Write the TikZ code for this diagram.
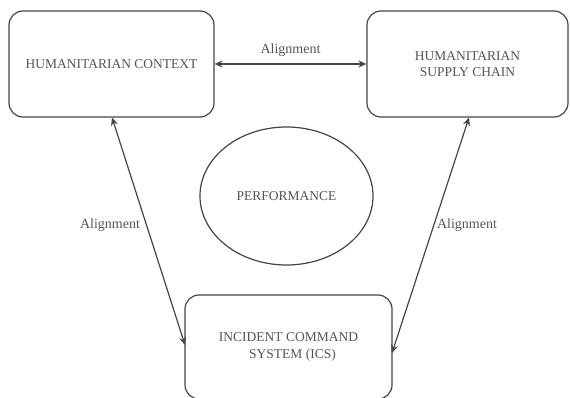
\documentclass[tikz,border=0pt]{standalone}
\usepackage{fontspec}
\setmainfont{Liberation Serif}
\usetikzlibrary{arrows.meta,shapes.geometric}
\definecolor{linegray}{HTML}{454545}
\definecolor{textgray}{HTML}{555555}
\tikzset{
  box/.style={draw=linegray, line width=1.2pt, rounded corners=14pt, rectangle,
    text=textgray, font=\fontsize{13.5}{16.5}\selectfont, align=center, inner sep=0pt},
  perf/.style={draw=linegray, line width=1.2pt, ellipse, text=textgray,
    font=\fontsize{13.5}{16.5}\selectfont, inner sep=0pt},
  link/.style={draw=linegray, line width=1.2pt, {Stealth[length=8pt,width=7pt]}-{Stealth[length=8pt,width=7pt]}},
  lbl/.style={text=textgray, font=\fontsize{14}{16}\selectfont, inner sep=1pt}
}
\begin{document}
\begin{tikzpicture}[x=1pt,y=-1pt]
\useasboundingbox (0,0) rectangle (570,398);
\node[box, minimum width=205pt, minimum height=106pt] (hc) at (111.5,64) {HUMANITARIAN CONTEXT};
\node[box, minimum width=201pt, minimum height=106pt] (hsc) at (467.5,64) {HUMANITARIAN\\SUPPLY CHAIN};
\node[box, minimum width=207pt, minimum height=104pt] (ics) at (288.5,347) {INCIDENT COMMAND\\\hspace*{8pt}SYSTEM (ICS)};
\node[perf, minimum width=173pt, minimum height=138pt] (perf) at (286.5,196) {PERFORMANCE};
\coordinate (hcb) at (112,117.5);
\coordinate (icsl) at (185,345);
\coordinate (hscb) at (469,117.5);
\coordinate (icsr) at (392,353);
\draw[link] (hc.east) -- (hsc.west) node[lbl, midway, above=6pt] {Alignment};
\draw[link] (hcb) -- (icsl);
\draw[link] (hscb) -- (icsr);
\node[lbl] (l2) at (110,225) {Alignment};
\node[lbl] (l3) at (467,225) {Alignment};
\end{tikzpicture}
\end{document}
